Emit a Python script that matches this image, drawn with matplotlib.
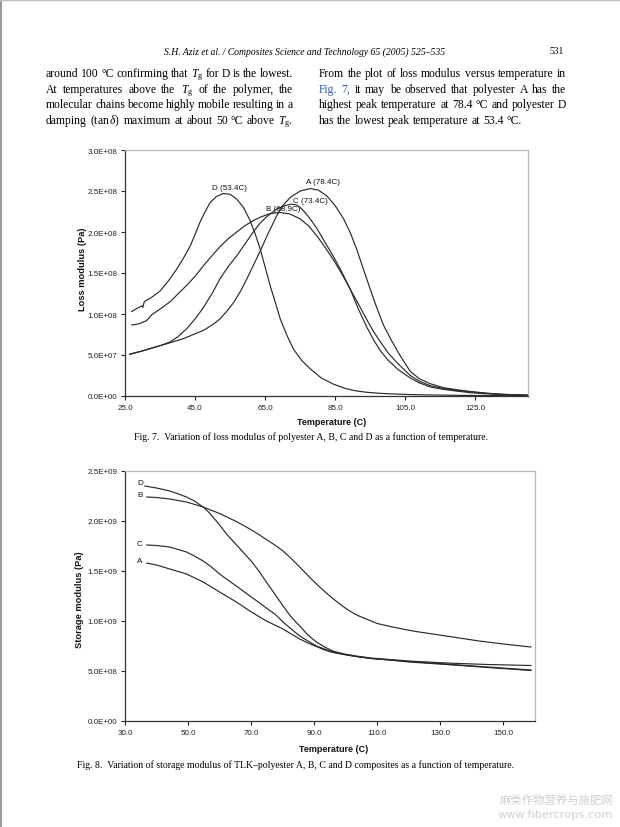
import matplotlib
matplotlib.use("Agg")
import matplotlib.pyplot as plt
from matplotlib.ticker import FixedLocator, FuncFormatter
from matplotlib.lines import Line2D

plt.rcParams['mathtext.fontset'] = 'custom'
plt.rcParams['mathtext.rm'] = 'Liberation Serif'
plt.rcParams['mathtext.it'] = 'Liberation Serif:italic'
plt.rcParams['mathtext.bf'] = 'Liberation Serif:bold'

# ---------------- data: Fig. 7 loss modulus (Pa) ----------------
A_T = [26.4, 30, 33.1, 37.9, 41.7, 44.5, 47.4, 50, 52.1, 54, 56, 58, 59.8, 61.7, 63.6, 65.5,
       68.3, 70.2, 72.1, 75, 77.9, 80.2, 82.6, 85, 87.4, 89.3, 91.2, 93, 95, 96.9, 98.8, 101,
       103.4, 106.4, 109, 112.1, 116, 120, 123.6, 128, 132, 136, 139.9]
A_E = [0.51, 0.55, 0.59, 0.65, 0.70, 0.75, 0.80, 0.87, 0.94, 1.03, 1.14, 1.28, 1.43, 1.60, 1.77, 1.95,
       2.20, 2.33, 2.42, 2.50, 2.53, 2.51, 2.44, 2.32, 2.16, 1.99, 1.78, 1.55, 1.30, 1.07, 0.86, 0.68,
       0.50, 0.30, 0.21, 0.15, 0.10, 0.075, 0.055, 0.035, 0.022, 0.015, 0.01]
B_T = [26.9, 29, 31.2, 32.6, 35, 37.9, 40, 42.6, 45, 47.4, 50, 52.1, 54.5, 56.9, 59, 61.6, 63.6,
       66, 69, 72, 75, 77.5, 79.8, 82, 84.5, 87, 89.3, 91.5, 94, 96, 97.9, 100, 103, 106.4, 109,
       112.1, 116, 120, 123.6, 128, 132, 136, 139.9]
B_E = [0.866, 0.88, 0.92, 0.99, 1.06, 1.15, 1.24, 1.35, 1.46, 1.59, 1.72, 1.82, 1.92, 2.00, 2.07, 2.14, 2.18,
       2.22, 2.24, 2.22, 2.16, 2.07, 1.95, 1.82, 1.66, 1.48, 1.30, 1.13, 0.93, 0.78, 0.66, 0.53, 0.39, 0.25, 0.18,
       0.126, 0.09, 0.065, 0.05, 0.033, 0.022, 0.015, 0.01]
C_T = [26.4, 30, 33.1, 35.5, 37.9, 40, 42.6, 45, 47.4, 50, 52.1, 54.5, 56.9, 59, 61.6, 63.6, 65.5,
       68.3, 70.5, 72.5, 74, 75.5, 77.5, 79.8, 82, 84.5, 87, 89.3, 91.5, 94, 96, 97.9, 100, 103,
       106.4, 109, 112.1, 116, 120, 123.6, 128, 132, 136, 139.9]
C_E = [0.51, 0.55, 0.59, 0.62, 0.66, 0.72, 0.82, 0.94, 1.08, 1.26, 1.43, 1.58, 1.71, 1.84, 2.00, 2.11, 2.19,
       2.28, 2.32, 2.34, 2.33, 2.28, 2.18, 2.04, 1.88, 1.70, 1.50, 1.30, 1.07, 0.84, 0.68, 0.55, 0.44, 0.32,
       0.22, 0.16, 0.11, 0.08, 0.058, 0.04, 0.028, 0.018, 0.012, 0.008]
D_T = [26.9, 28.5, 29.8, 30.1, 30.5, 32.5, 35, 37.5, 39.8, 41.8, 43.6, 45, 46.4, 47.9, 49.3, 51, 53,
       55, 56.9, 58.8, 60.7, 62.2, 63.6, 65, 66.4, 67.9, 69.3, 71.2, 73.1, 75.5, 77.9, 81, 84.4, 88,
       91, 94, 98, 102, 106, 110, 115, 120, 130, 139.9]
D_E = [1.03, 1.07, 1.10, 1.08, 1.15, 1.20, 1.28, 1.41, 1.55, 1.69, 1.83, 1.97, 2.12, 2.25, 2.36, 2.43, 2.47,
       2.46, 2.40, 2.30, 2.14, 1.97, 1.79, 1.57, 1.35, 1.14, 0.94, 0.74, 0.57, 0.43, 0.33, 0.22, 0.146, 0.09,
       0.062, 0.045, 0.032, 0.024, 0.018, 0.014, 0.011, 0.008, 0.005, 0.003]
loss_scale = 1e8
loss_names = ["A (78.4C)", "B (68.9C)", "C (73.4C)", "D (53.4C)"]
loss_label_pos = [(81.6, 2.62e8), (70.1, 2.29e8), (77.9, 2.39e8), (54.7, 2.54e8)]
loss_xticks = [25, 45, 65, 85, 105, 125]
loss_yticks = [0, 5e7, 1e8, 1.5e8, 2e8, 2.5e8, 3e8]

# ---------------- data: Fig. 8 storage modulus (Pa) ----------------
SA_T = [36.9, 40, 44.2, 49.5, 54.8, 60, 65.3, 69.6, 72.7, 74.8, 77.5, 80.1, 82.7, 85.4, 88, 90.7,
        93.3, 95.9, 99.5, 103.3, 108, 113.9, 120, 131.8, 145, 158.7]
SA_E = [1.58, 1.56, 1.52, 1.47, 1.39, 1.29, 1.19, 1.10, 1.04, 1.00, 0.96, 0.92, 0.87, 0.82, 0.78, 0.745,
        0.71, 0.685, 0.665, 0.645, 0.625, 0.61, 0.59, 0.565, 0.535, 0.505]
SB_T = [36.9, 40, 44.2, 49.5, 54.8, 60, 65.3, 69.6, 72.7, 74.8, 77.5, 80.1, 82.7, 85.4, 88, 90.7,
        93.3, 95.9, 98.5, 101.2, 103.8, 106.5, 110, 114, 121.2, 131.8, 142.3, 150, 158.7]
SB_E = [2.24, 2.235, 2.22, 2.19, 2.14, 2.075, 1.995, 1.92, 1.86, 1.815, 1.76, 1.70, 1.625, 1.54, 1.455, 1.37,
        1.295, 1.225, 1.16, 1.10, 1.055, 1.02, 0.975, 0.945, 0.90, 0.85, 0.80, 0.77, 0.74]
SC_T = [36.9, 40, 44.2, 49.5, 52, 54.8, 57.4, 60, 62.6, 65.3, 69.6, 72.7, 74.8, 77.5, 80.1, 82.7,
        85.4, 88, 90.7, 93.3, 95.9, 99.5, 103.3, 108, 113.9, 120, 131.8, 145, 158.7]
SC_E = [1.76, 1.755, 1.74, 1.69, 1.65, 1.60, 1.54, 1.47, 1.41, 1.35, 1.25, 1.18, 1.13, 1.07, 0.99, 0.92,
        0.85, 0.80, 0.75, 0.72, 0.69, 0.665, 0.645, 0.625, 0.61, 0.595, 0.57, 0.54, 0.51]
SD_T = [36.3, 40, 44.2, 47, 49.5, 52, 54.8, 56.5, 57.9, 60, 62.2, 64.8, 67.4, 70, 72.7, 74.8, 77.5,
        80.1, 82.7, 85.4, 88, 90.7, 93.3, 95.9, 99.5, 103.3, 108, 113.9, 120, 131.8, 145, 158.7]
SD_E = [2.35, 2.33, 2.30, 2.27, 2.24, 2.20, 2.14, 2.09, 2.04, 1.96, 1.87, 1.78, 1.69, 1.60, 1.49, 1.39, 1.27,
        1.15, 1.04, 0.95, 0.86, 0.79, 0.74, 0.70, 0.67, 0.65, 0.63, 0.615, 0.60, 0.58, 0.565, 0.555]
stor_scale = 1e9
stor_names = ["A", "B", "C", "D"]
stor_label_pos = [(35.6, 1.60e9), (35.6, 2.26e9), (35.6, 1.77e9), (35.6, 2.38e9)]
stor_xticks = [30, 50, 70, 90, 110, 130, 150]
stor_yticks = [0, 5e8, 1e9, 1.5e9, 2e9, 2.5e9]

# ---------------- page text ----------------
header_text = "S.H. Aziz et al. / Composites Science and Technology 65 (2005) 525–535"
page_number = "531"
left_lines = [
    "around 100 °C confirming that $T_\\mathrm{g}$ for D is the lowest.",
    "At temperatures above the $T_\\mathrm{g}$ of the polymer, the",
    "molecular chains become highly mobile resulting in a",
    "damping (tan$\\,\\delta$) maximum at about 50 °C above $T_\\mathrm{g}$.",
]
right_lines = [
    "From the plot of loss modulus versus temperature in",
    "Fig. 7, it may be observed that polyester A has the",
    "highest peak temperature at 78.4 °C and polyester D",
    "has the lowest peak temperature at 53.4 °C.",
]
caption7 = "Fig. 7.  Variation of loss modulus of polyester A, B, C and D as a function of temperature."
caption8 = "Fig. 8.  Variation of storage modulus of TLK–polyester A, B, C and D composites as a function of temperature."
watermark = ["麻类作物营养与施肥网", "www.fibercrops.com"]

# ---------------- figure ----------------
W, H = 620, 828
fig = plt.figure(figsize=(W / 100, H / 100), dpi=100)
fig.patch.set_facecolor("white")
renderer = fig.canvas.get_renderer()


def fx(px):
    return px / W


def fy(py):
    return 1 - py / H


# page edge lines
fig.add_artist(Line2D([fx(1), fx(1)], [0, 1], color="#9a9a9a", lw=1.5))
fig.add_artist(Line2D([0, 1], [fy(1), fy(1)], color="#bdbdbd", lw=1.0))

serif = "Liberation Serif"
body_size = 8.4


def put_line(line, x0, x1, ybase, justify=True, blue_words=0):
    words = line.split(" ")
    texts = []
    for i, w in enumerate(words):
        col = "#2a55a5" if i < blue_words else "black"
        t = fig.text(0, 0, w, fontsize=body_size, family=serif, color=col,
                     ha="left", va="baseline")
        texts.append(t)
    widths = [t.get_window_extent(renderer).width for t in texts]
    if justify and len(words) > 1:
        gap = (x1 - x0 - sum(widths)) / (len(words) - 1)
    else:
        gap = 0.25 * body_size * 100 / 72
    x = x0
    for t, w in zip(texts, widths):
        t.set_position((fx(x), fy(ybase)))
        x += w + gap


line_y = [77, 93, 108, 124]
for i, ln in enumerate(left_lines):
    put_line(ln, 46, 293, line_y[i], justify=True)
for i, ln in enumerate(right_lines):
    put_line(ln, 319, 566, line_y[i], justify=(i < 3), blue_words=(2 if i == 1 else 0))

fig.text(fx(305), fy(52), header_text, fontsize=6.9, family=serif, style="italic",
         ha="center", va="center")
fig.text(fx(564), fy(52), page_number, fontsize=6.9, family=serif, ha="right", va="center")

fig.text(fx(311), fy(437), caption7, fontsize=7.0, family=serif, ha="center", va="center")
fig.text(fx(296), fy(765), caption8, fontsize=7.0, family=serif, ha="center", va="center")

fig.text(fx(613), fy(800), watermark[0], fontsize=8.2, family=["Noto Sans CJK SC", "DejaVu Sans"],
         color="#cfcfcf", ha="right", va="center")
fig.text(fx(613), fy(815), watermark[1], fontsize=8.2, family="DejaVu Sans",
         color="#cfcfcf", ha="right", va="center")

sans = "Liberation Sans"
line_col = "#2a2a2a"


def sci_fmt(v, pos):
    return "%.1E" % v


def style_axes(ax, xt, yt, xlim, ylim, ylabel, xlab_pos, ylab_pos):
    ax.set_xlim(*xlim)
    ax.set_ylim(*ylim)
    ax.xaxis.set_major_locator(FixedLocator(xt))
    ax.yaxis.set_major_locator(FixedLocator(yt))
    ax.xaxis.set_major_formatter(FuncFormatter(lambda v, p: "%.1f" % v))
    ax.yaxis.set_major_formatter(FuncFormatter(sci_fmt))
    for lab in ax.get_xticklabels() + ax.get_yticklabels():
        lab.set_family(sans)
    ax.tick_params(axis="both", which="major", labelsize=5.8, length=3, width=0.8,
                   direction="out", colors="#222222", pad=2.5)
    ax.tick_params(top=False, right=False)
    for s in ("left", "bottom"):
        ax.spines[s].set_color("#333333")
        ax.spines[s].set_linewidth(0.9)
    for s in ("top", "right"):
        ax.spines[s].set_color("#b8b8b8")
        ax.spines[s].set_linewidth(0.9)
    ax.set_xlabel("Temperature (C)", family=sans, fontsize=6.5, fontweight="bold", color="#111111")
    ax.set_ylabel(ylabel, family=sans, fontsize=6.7, fontweight="bold", color="#111111")
    ax.xaxis.set_label_coords(*xlab_pos)
    ax.yaxis.set_label_coords(*ylab_pos)
    ax.set_facecolor("white")


# ---- Fig. 7 ----
ax1 = fig.add_axes([fx(125), fy(397), (528 - 125) / W, (397 - 151) / H])
for T, E in [(A_T, A_E), (B_T, B_E), (C_T, C_E), (D_T, D_E)]:
    ax1.plot(T, [e * loss_scale for e in E], color=line_col, lw=0.85, solid_joinstyle="round")
for name, (x, y) in zip(loss_names, loss_label_pos):
    ax1.text(x, y, name, family=sans, fontsize=5.8, ha="center", va="center", color="#111111")
style_axes(ax1, loss_xticks, loss_yticks, (25, 140), (0, 3e8), "Loss modulus (Pa)",
           (0.513, -0.085), (-0.094, 0.52))

# ---- Fig. 8 ----
ax2 = fig.add_axes([fx(125), fy(722), (535 - 125) / W, (722 - 472) / H])
for T, E in [(SA_T, SA_E), (SB_T, SB_E), (SC_T, SC_E), (SD_T, SD_E)]:
    ax2.plot(T, [e * stor_scale for e in E], color=line_col, lw=0.85, solid_joinstyle="round")
for name, (x, y) in zip(stor_names, stor_label_pos):
    ax2.text(x, y, name, family=sans, fontsize=5.8, ha="right", va="center", color="#111111")
style_axes(ax2, stor_xticks, stor_yticks, (30, 160), (0, 2.5e9), "Storage modulus (Pa)",
           (0.51, -0.092), (-0.1, 0.49))

fig.savefig("out.png", dpi=100, facecolor="white")
